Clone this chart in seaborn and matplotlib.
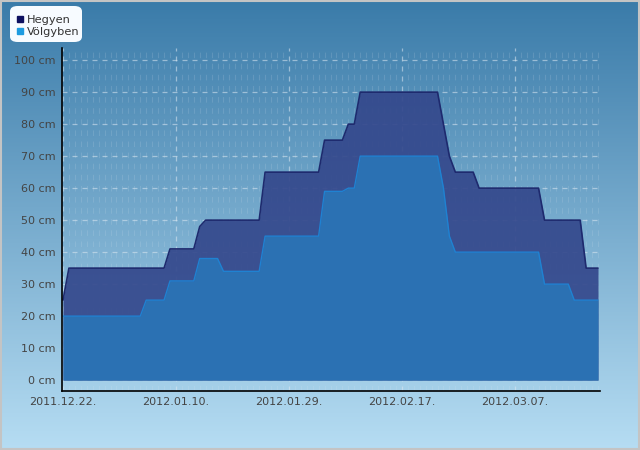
import numpy as np
import pandas as pd
import seaborn as sns
import matplotlib.pyplot as plt
import matplotlib.dates as mdates
from matplotlib.lines import Line2D
from matplotlib.patches import FancyBboxPatch, Rectangle

# snow depth breakpoints (date, cm)
hegyen_dates = ['2011-12-22', '2011-12-23', '2012-01-08', '2012-01-09', '2012-01-13',
                '2012-01-14', '2012-01-15', '2012-01-24', '2012-01-25', '2012-02-03',
                '2012-02-04', '2012-02-07', '2012-02-08', '2012-02-09', '2012-02-10',
                '2012-02-23', '2012-02-24', '2012-02-25', '2012-02-26', '2012-02-29',
                '2012-03-01', '2012-03-11', '2012-03-12', '2012-03-18', '2012-03-19',
                '2012-03-21']
hegyen_cm = [25, 35, 35, 41, 41, 48, 50, 50, 65, 65, 75, 75, 80, 80, 90,
             90, 80, 70, 65, 65, 60, 60, 50, 50, 35, 35]

volgyben_dates = ['2011-12-22', '2012-01-04', '2012-01-05', '2012-01-08', '2012-01-09',
                  '2012-01-13', '2012-01-14', '2012-01-17', '2012-01-18', '2012-01-24',
                  '2012-01-25', '2012-02-03', '2012-02-04', '2012-02-07', '2012-02-08',
                  '2012-02-09', '2012-02-10', '2012-02-23', '2012-02-24', '2012-02-25',
                  '2012-02-26', '2012-03-11', '2012-03-12', '2012-03-16', '2012-03-17',
                  '2012-03-21']
volgyben_cm = [20, 20, 25, 25, 31, 31, 38, 38, 34, 34, 45, 45, 59, 59, 60,
               60, 70, 70, 60, 45, 40, 40, 30, 30, 25, 25]

tick_dates = ['2011-12-22', '2012-01-10', '2012-01-29', '2012-02-17', '2012-03-07']
tick_labels = ['2011.12.22.', '2012.01.10.', '2012.01.29.', '2012.02.17.', '2012.03.07.']
y_ticks = [0, 10, 20, 30, 40, 50, 60, 70, 80, 90, 100]

hegy = pd.DataFrame({'date': pd.to_datetime(hegyen_dates), 'cm': hegyen_cm})
volgy = pd.DataFrame({'date': pd.to_datetime(volgyben_dates), 'cm': volgyben_cm})

sns.set_style('white')
plt.rcParams['font.family'] = ['DejaVu Sans']

fig = plt.figure(figsize=(6.4, 4.5), dpi=100)

# gradient background
bg = fig.add_axes([0, 0, 1, 1], zorder=-10)
grad = np.linspace(0, 1, 256).reshape(-1, 1)
top = np.array([0x3a, 0x7b, 0xa9]) / 255
bot = np.array([0xb6, 0xdd, 0xf3]) / 255
img = top + (bot - top) * grad[..., None]
bg.imshow(img, aspect='auto', extent=[0, 1, 0, 1], origin='upper')
bg.add_patch(Rectangle((0.001, 0.002), 0.997, 0.996, fill=False, edgecolor='#c4c4c4', lw=1.5))
bg.set_xlim(0, 1)
bg.set_ylim(0, 1)
bg.axis('off')

ax = fig.add_axes([62 / 640, 1 - 391 / 450, 538 / 640, 343 / 450])
ax.set_facecolor('none')

ax.grid(True, which='major', axis='both', color='#dde8f2', ls=(0, (4, 4)), lw=0.9, alpha=0.55, zorder=1)
ax.grid(True, which='minor', axis='x', color='#dde8f2', ls=(0, (5, 5)), lw=0.8, alpha=0.15, zorder=1)
ax.set_axisbelow(True)

ax.fill_between(hegy['date'], 0, hegy['cm'], color='#34488c', alpha=0.92, lw=0, zorder=2)
sns.lineplot(data=hegy, x='date', y='cm', ax=ax, color='#1e2a6e', lw=1.2, zorder=3)
ax.fill_between(volgy['date'], 0, volgy['cm'], color='#2a74b6', alpha=0.93, lw=0, zorder=4)
sns.lineplot(data=volgy, x='date', y='cm', ax=ax, color='#1f82d2', lw=1.0, zorder=5)

start = pd.Timestamp('2011-12-22')
ax.set_xlim(start - pd.Timedelta(hours=4), pd.Timestamp('2012-03-21') + pd.Timedelta(hours=8))
ax.set_ylim(-3.4, 103.8)

ax.set_xticks(pd.to_datetime(tick_dates))
ax.set_xticklabels(tick_labels)
ax.xaxis.set_minor_locator(mdates.DayLocator())
ax.set_yticks(y_ticks)
ax.set_yticklabels([f'{v} cm' for v in y_ticks])
ax.set_xlabel('')
ax.set_ylabel('')

ax.tick_params(axis='both', which='major', direction='inout', length=5, width=1,
               labelsize=8, labelcolor='#444444', color='black')
ax.tick_params(axis='x', which='major', pad=2)
ax.tick_params(axis='y', which='major', pad=2)
ax.tick_params(axis='x', which='minor', direction='out', length=2, width=0.6, color='#666666')

for s in ['top', 'right']:
    ax.spines[s].set_visible(False)
ax.spines['left'].set_color('black')
ax.spines['bottom'].set_color('black')
ax.spines['left'].set_linewidth(1.2)
ax.spines['bottom'].set_linewidth(1.2)
ax.spines['left'].set_zorder(7)
ax.spines['bottom'].set_zorder(7)

# legend box
bg.add_patch(FancyBboxPatch((10 / 640, 1 - 42 / 450), 72 / 640, 36 / 450,
                            boxstyle='round,pad=0,rounding_size=0.012',
                            facecolor='#f7fbff', edgecolor='none'))
handles = [Line2D([], [], marker='s', ls='', color='#0d1060', markersize=5),
           Line2D([], [], marker='s', ls='', color='#1d9be0', markersize=5)]
leg = fig.legend(handles, ['Hegyen', 'Völgyben'], loc='upper left',
                 bbox_to_anchor=(9 / 640, 1 - 7 / 450), frameon=False, fontsize=8.2,
                 handlelength=0.6, handletextpad=0.3, labelspacing=0.15, borderpad=0.2)
for t in leg.get_texts():
    t.set_color('#333333')

fig.savefig('out.png', dpi=100)
